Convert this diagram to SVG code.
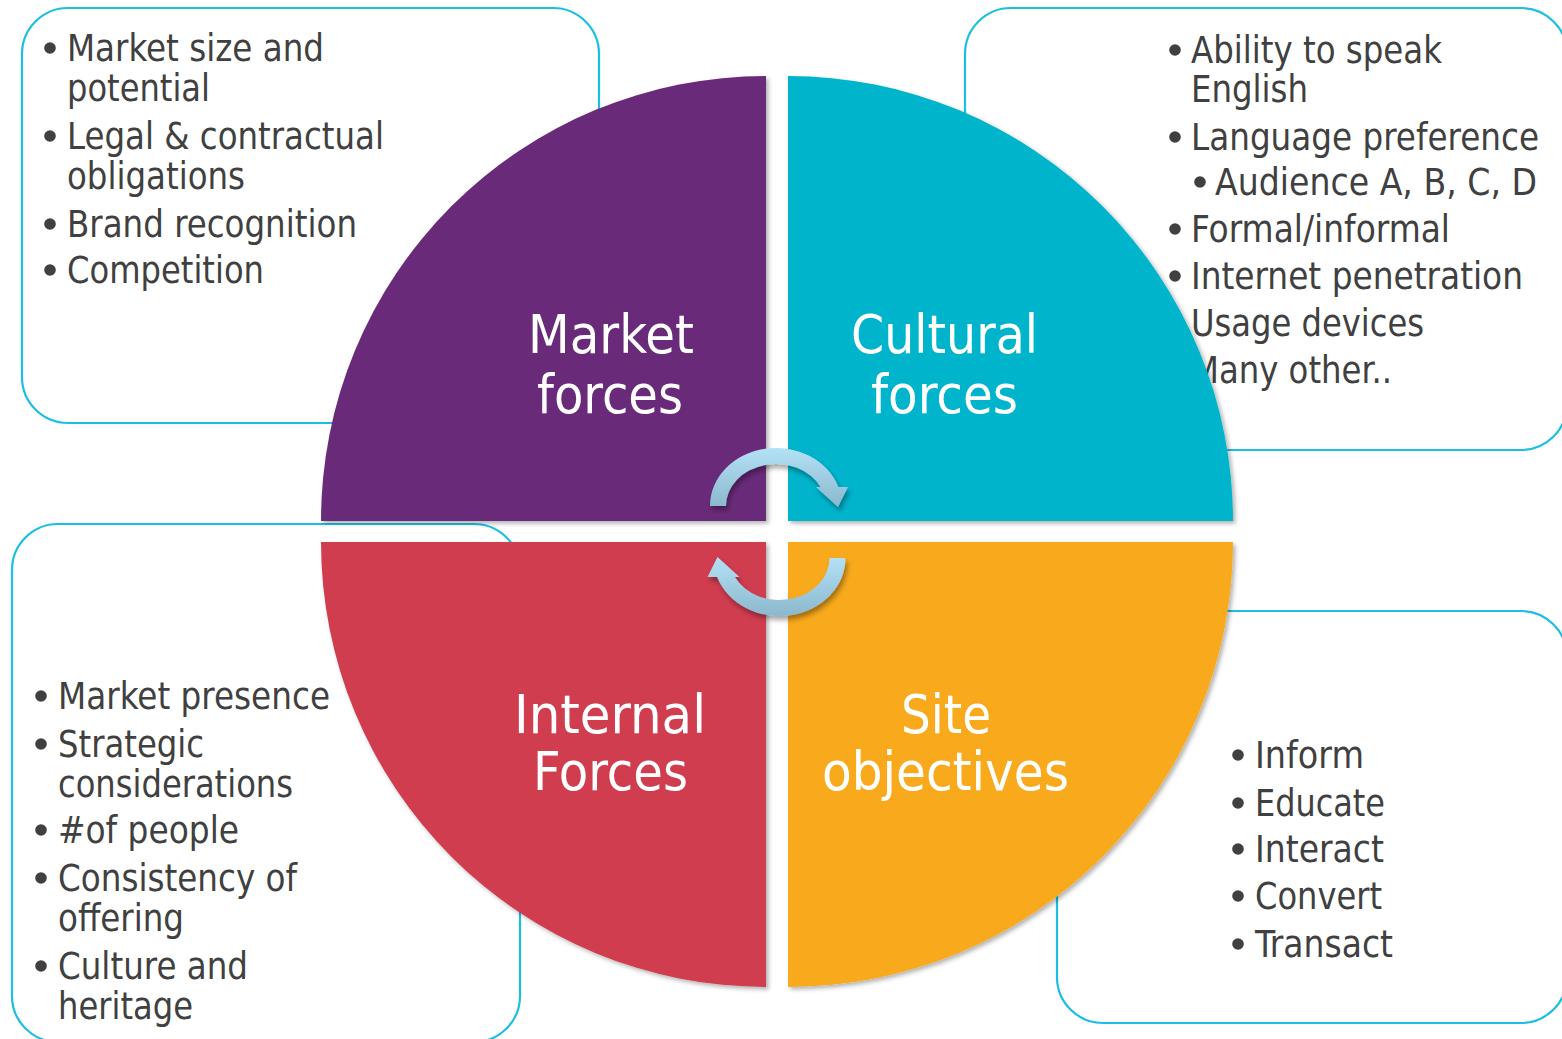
<svg xmlns="http://www.w3.org/2000/svg" width="1562" height="1039" viewBox="0 0 1562 1039">
<defs>
<style>
.box{fill:#ffffff;stroke:#1CBFE2;stroke-width:2.2}
.t{font-family:"DejaVu Sans","Liberation Sans",sans-serif;font-stretch:condensed;font-size:37px;fill:#404040}
.lbl{font-family:"DejaVu Sans","Liberation Sans",sans-serif;font-stretch:condensed;font-size:54px;fill:#ffffff}
.b{fill:#404040}
</style>
<filter id="sh" x="-10%" y="-10%" width="120%" height="120%">
<feDropShadow dx="2.5" dy="2.5" stdDeviation="2" flood-color="#000" flood-opacity="0.3"/>
</filter>
<filter id="ash" x="-20%" y="-20%" width="140%" height="150%">
<feDropShadow dx="2" dy="4" stdDeviation="2.5" flood-color="#000" flood-opacity="0.35"/>
</filter>
<linearGradient id="ag" x1="0" y1="0" x2="0" y2="1">
<stop offset="0" stop-color="#B3E1F6"/>
<stop offset="1" stop-color="#8CB8CE"/>
</linearGradient>
</defs>
<rect width="1562" height="1039" fill="#ffffff"/>

<g id="box-market">
<rect class="box" x="22" y="8" width="577" height="415" rx="46"/>
<circle class="b" cx="50" cy="48" r="5.8"/>
<text class="t" x="67" y="61" textLength="257" lengthAdjust="spacingAndGlyphs">Market size and</text>
<text class="t" x="67" y="101" textLength="143" lengthAdjust="spacingAndGlyphs">potential</text>
<circle class="b" cx="50" cy="136" r="5.8"/>
<text class="t" x="67" y="149" textLength="317" lengthAdjust="spacingAndGlyphs">Legal &amp; contractual</text>
<text class="t" x="67" y="189" textLength="178" lengthAdjust="spacingAndGlyphs">obligations</text>
<circle class="b" cx="50" cy="224" r="5.8"/>
<text class="t" x="67" y="237" textLength="290" lengthAdjust="spacingAndGlyphs">Brand recognition</text>
<circle class="b" cx="50" cy="270" r="5.8"/>
<text class="t" x="67" y="283" textLength="197" lengthAdjust="spacingAndGlyphs">Competition</text>
</g>

<g id="box-cultural">
<rect class="box" x="965" y="8" width="602" height="442" rx="46"/>
<circle class="b" cx="1175" cy="50" r="5.8"/>
<text class="t" x="1191" y="63" textLength="251" lengthAdjust="spacingAndGlyphs">Ability to speak</text>
<text class="t" x="1191" y="102" textLength="117" lengthAdjust="spacingAndGlyphs">English</text>
<circle class="b" cx="1175" cy="137" r="5.8"/>
<text class="t" x="1191" y="150" textLength="348" lengthAdjust="spacingAndGlyphs">Language preference</text>
<circle class="b" cx="1200" cy="182" r="5.8"/>
<text class="t" x="1215" y="195" textLength="322" lengthAdjust="spacingAndGlyphs">Audience A, B, C, D</text>
<circle class="b" cx="1175" cy="229" r="5.8"/>
<text class="t" x="1191" y="242" textLength="259" lengthAdjust="spacingAndGlyphs">Formal/informal</text>
<circle class="b" cx="1175" cy="276" r="5.8"/>
<text class="t" x="1191" y="289" textLength="332" lengthAdjust="spacingAndGlyphs">Internet penetration</text>
<text class="t" x="1191" y="336" textLength="233" lengthAdjust="spacingAndGlyphs">Usage devices</text>
<text class="t" x="1191" y="383" textLength="201" lengthAdjust="spacingAndGlyphs">Many other..</text>
</g>

<g id="box-internal">
<rect class="box" x="12" y="524" width="508" height="518" rx="46"/>
<circle class="b" cx="41" cy="696" r="5.8"/>
<text class="t" x="58" y="709" textLength="272" lengthAdjust="spacingAndGlyphs">Market presence</text>
<circle class="b" cx="41" cy="744" r="5.8"/>
<text class="t" x="58" y="757" textLength="146" lengthAdjust="spacingAndGlyphs">Strategic</text>
<text class="t" x="58" y="797" textLength="235" lengthAdjust="spacingAndGlyphs">considerations</text>
<circle class="b" cx="41" cy="830" r="5.8"/>
<text class="t" x="58" y="843" textLength="181" lengthAdjust="spacingAndGlyphs">#of people</text>
<circle class="b" cx="41" cy="878" r="5.8"/>
<text class="t" x="58" y="891" textLength="239" lengthAdjust="spacingAndGlyphs">Consistency of</text>
<text class="t" x="58" y="931" textLength="126" lengthAdjust="spacingAndGlyphs">offering</text>
<circle class="b" cx="41" cy="966" r="5.8"/>
<text class="t" x="58" y="979" textLength="190" lengthAdjust="spacingAndGlyphs">Culture and</text>
<text class="t" x="58" y="1019" textLength="135" lengthAdjust="spacingAndGlyphs">heritage</text>
</g>

<g id="box-site">
<rect class="box" x="1057" y="611" width="510" height="412" rx="46"/>
<circle class="b" cx="1238" cy="755" r="5.8"/>
<text class="t" x="1255" y="768" textLength="109" lengthAdjust="spacingAndGlyphs">Inform</text>
<circle class="b" cx="1238" cy="803" r="5.8"/>
<text class="t" x="1255" y="816" textLength="130" lengthAdjust="spacingAndGlyphs">Educate</text>
<circle class="b" cx="1238" cy="849" r="5.8"/>
<text class="t" x="1255" y="862" textLength="129" lengthAdjust="spacingAndGlyphs">Interact</text>
<circle class="b" cx="1238" cy="896" r="5.8"/>
<text class="t" x="1255" y="909" textLength="127" lengthAdjust="spacingAndGlyphs">Convert</text>
<circle class="b" cx="1238" cy="944" r="5.8"/>
<text class="t" x="1255" y="957" textLength="138" lengthAdjust="spacingAndGlyphs">Transact</text>
</g>

<g id="q-market">
<path d="M766,521 L321,521 A445,445 0 0 1 766,76 Z" fill="#6A2B7A" filter="url(#sh)"/>
<text class="lbl" x="528" y="353" textLength="166" lengthAdjust="spacingAndGlyphs">Market</text>
<text class="lbl" x="537" y="413" textLength="146" lengthAdjust="spacingAndGlyphs">forces</text>
</g>

<g id="q-cultural">
<path d="M788,521 L788,76 A445,445 0 0 1 1233,521 Z" fill="#04B4CC" filter="url(#sh)"/>
<text class="lbl" x="851" y="353" textLength="187" lengthAdjust="spacingAndGlyphs">Cultural</text>
<text class="lbl" x="871" y="413" textLength="147" lengthAdjust="spacingAndGlyphs">forces</text>
</g>

<g id="q-internal">
<path d="M766,542 L766,987 A445,445 0 0 1 321,542 Z" fill="#D03D4F" filter="url(#sh)"/>
<text class="lbl" x="514" y="733" textLength="192" lengthAdjust="spacingAndGlyphs">Internal</text>
<text class="lbl" x="533" y="790" textLength="155" lengthAdjust="spacingAndGlyphs">Forces</text>
</g>

<g id="q-site">
<path d="M788,542 L1233,542 A445,445 0 0 1 788,987 Z" fill="#F8A91D" filter="url(#sh)"/>
<text class="lbl" x="901" y="733" textLength="90" lengthAdjust="spacingAndGlyphs">Site</text>
<text class="lbl" x="822" y="790" textLength="247" lengthAdjust="spacingAndGlyphs">objectives</text>
</g>

<g id="connectors">
<path d="M710,506 A66,58 0 0 1 838.4,487 L848,487 L838,507 L816,487 L820.6,487 A50,42 0 0 0 726,506 Z" fill="url(#ag)" filter="url(#ash)"/>
<path d="M845.5,558 A66,58 0 0 1 717.1,577 L707.5,577 L717.5,557 L739.5,577 L734.9,577 A50,42 0 0 0 829.5,558 Z" fill="url(#ag)" filter="url(#ash)"/>
</g>
</svg>
